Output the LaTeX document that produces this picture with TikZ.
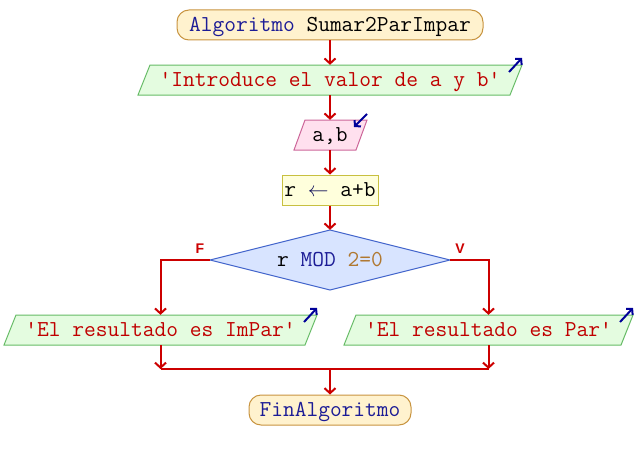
\documentclass[tikz,border=0pt]{standalone}
\usepackage{fontspec}
\setsansfont{Liberation Sans}
\usetikzlibrary{arrows.meta,calc}
\definecolor{flowred}{HTML}{CC0000}
\definecolor{strred}{HTML}{C00000}
\definecolor{kwblue}{HTML}{1C1C96}
\definecolor{numbrown}{HTML}{B07830}
\definecolor{navy}{HTML}{000099}
\definecolor{termfill}{HTML}{FFF2CE}
\definecolor{termdraw}{HTML}{C89440}
\definecolor{iofill}{HTML}{E4FCE0}
\definecolor{iodraw}{HTML}{66BB66}
\definecolor{infill}{HTML}{FFE0EE}
\definecolor{indraw}{HTML}{CC6699}
\definecolor{asfill}{HTML}{FFFFDC}
\definecolor{asdraw}{HTML}{C8C040}
\definecolor{decfill}{HTML}{D8E4FF}
\definecolor{decdraw}{HTML}{4466CC}
\newcommand{\qq}{\char39\relax}
\newcommand{\kwd}[1]{\textcolor{kwblue}{#1}}
\newcommand{\str}[1]{\textcolor{strred}{\qq#1\qq}}
\tikzset{
  txt/.style={font=\ttfamily\fontsize{22.8}{24}\selectfont, inner sep=0pt, minimum height=30pt, text height=14pt, text depth=1pt},
  term/.style={txt, draw=termdraw, fill=termfill, line width=1pt, rounded corners=12pt},
  iobox/.style={draw=iodraw, fill=iofill, line width=1pt},
  inbox/.style={draw=indraw, fill=infill, line width=1pt},
  asbox/.style={txt, draw=asdraw, fill=asfill, line width=1pt},
  decbox/.style={draw=decdraw, fill=decfill, line width=1pt},
  flow/.style={draw=flowred, line width=2pt, -{Straight Barb[length=5pt,width=11pt,line width=2pt]}},
  flowline/.style={draw=flowred, line width=2pt},
  bluearrow/.style={draw=navy, line width=2pt, -{Straight Barb[length=4pt,width=9pt,line width=2pt]}},
  tf/.style={font=\sffamily\bfseries\fontsize{14}{16}\selectfont, text=flowred, inner sep=0pt}
}
\begin{document}
\begin{tikzpicture}[x=1pt,y=-1pt]
\useasboundingbox (0,0) rectangle (636,460);
% shapes drawn directly
\path[iobox] (138,95) -- (150,65) -- (522,65) -- (510,95) -- cycle;
\path[inbox] (294,150) -- (305,120) -- (367,120) -- (356,150) -- cycle;
\path[decbox] (330,230) -- (450,260) -- (330,290) -- (210,260) -- cycle;
\path[iobox] (4,345) -- (16,315) -- (317,315) -- (305,345) -- cycle;
\path[iobox] (344,345) -- (356,315) -- (633,315) -- (621,345) -- cycle;
% nodes
\node[term, minimum width=306pt] (start) at (330,25) {\kwd{Algoritmo} Sumar2ParImpar};
\node[txt] (o1) at (330,80) {\str{Introduce el valor de a y b}};
\node[txt] (ab) at (330,135) {a,b};
\node[asbox, minimum width=96pt] (as) at (330,190) {r \textcolor{kwblue!60!black}{$\leftarrow$} a+b};
\node[txt, minimum width=240pt, minimum height=60pt] (dec) at (330,260) {r \kwd{MOD} \textcolor{numbrown}{2=0}};
\node[txt] (o2) at (160.5,330) {\str{El resultado es ImPar}};
\node[txt] (o3) at (488.5,330) {\str{El resultado es Par}};
\node[term, minimum width=162pt] (fin) at (330,410) {\kwd{FinAlgoritmo}};
\node[tf] (lf) at (200,249) {F};
\node[tf] (lv) at (460,249) {V};
% connectors
\draw[flow] (start.south) -- (o1.north);
\draw[flow] (o1.south) -- (ab.north);
\draw[flow] (ab.south) -- (as.north);
\draw[flow] (as.south) -- (dec.north);
\draw[flow] (dec.west) -| (o2.north);
\draw[flow] (dec.east) -| (o3.north);
\coordinate (m) at (330,369);
\coordinate (ml) at (o2.south |- m);
\coordinate (mr) at (o3.south |- m);
\draw[flow] (o2.south) -- (ml);
\draw[flow] (o3.south) -- (mr);
\draw[flowline] (ml) -- (mr);
\draw[flow] (m) -- (fin.north);
% small blue arrows
\coordinate (b1s) at (509,72); \coordinate (b1e) at (522,58);
\coordinate (b2s) at (367,114); \coordinate (b2e) at (354,127);
\coordinate (b3s) at (304,322); \coordinate (b3e) at (317,308);
\coordinate (b4s) at (620,322); \coordinate (b4e) at (633,308);
\draw[bluearrow] (b1s) -- (b1e);
\draw[bluearrow] (b2s) -- (b2e);
\draw[bluearrow] (b3s) -- (b3e);
\draw[bluearrow] (b4s) -- (b4e);
\end{tikzpicture}
\end{document}
